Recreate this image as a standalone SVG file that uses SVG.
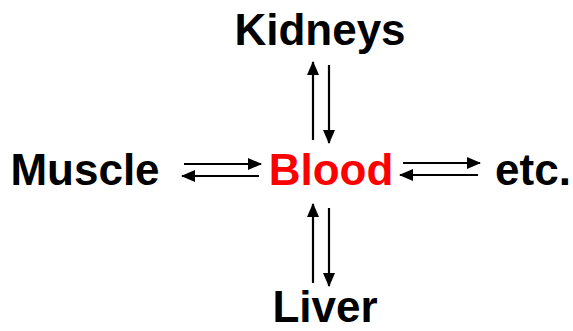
<svg xmlns="http://www.w3.org/2000/svg" width="573" height="331" viewBox="0 0 573 331">
<style>
text{font-family:"Liberation Sans",Arial,sans-serif;font-weight:bold;font-size:44px;fill:#000}
#blood text{fill:#ff0000}
.c line{stroke:#000;stroke-width:2.2;marker-end:url(#ah)}
</style>
<defs><marker id="ah" markerUnits="userSpaceOnUse" markerWidth="14" markerHeight="12" refX="13" refY="6" orient="auto"><path d="M0,0 L14,6 L0,12 Z" fill="#000"/></marker></defs>
<rect width="573" height="331" fill="#fff"/>
<g id="kidneys"><text x="320" y="45" text-anchor="middle">Kidneys</text></g>
<g id="muscle"><text x="85" y="185" text-anchor="middle">Muscle</text></g>
<g id="blood"><text x="331" y="185" text-anchor="middle">Blood</text></g>
<g id="etc"><text x="533" y="185" text-anchor="middle">etc.</text></g>
<g id="liver"><text x="325" y="322" text-anchor="middle">Liver</text></g>
<g class="c" id="connectors">
<line x1="184" y1="164" x2="261" y2="164"/>
<line x1="259" y1="176" x2="182" y2="176"/>
<line x1="403" y1="163" x2="480" y2="163"/>
<line x1="478" y1="175" x2="400" y2="175"/>
<line x1="313" y1="140" x2="313" y2="62"/>
<line x1="329" y1="65" x2="329" y2="143"/>
<line x1="313" y1="283" x2="313" y2="204"/>
<line x1="329" y1="208" x2="329" y2="286"/>
</g>
</svg>
